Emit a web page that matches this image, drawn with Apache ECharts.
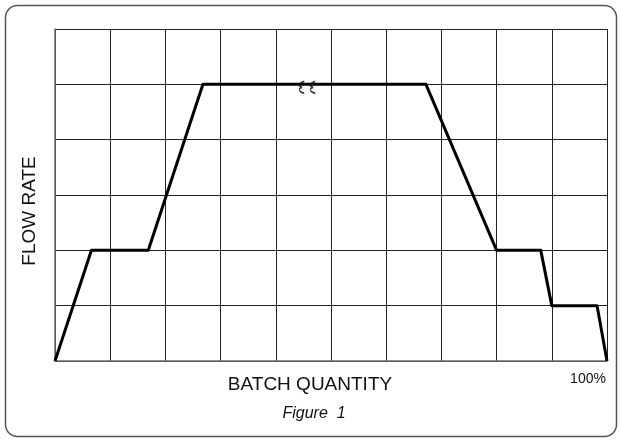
<!DOCTYPE html>
<html>
<head>
<meta charset="utf-8">
<script src="https://cdn.jsdelivr.net/npm/echarts@6/dist/echarts.min.js"></script>
<style>
  html, body { margin: 0; padding: 0; background: #fff; }
  #chart { width: 621px; height: 441px; }
</style>
</head>
<body>
<div id="chart"></div>
<script>
// batch quantity in grid columns (0..10), flow rate in grid rows (0..6)
const batchQty = [0, 0.66, 1.69, 2.68, 6.72, 8.0, 8.8, 9.0, 9.82, 10];
const flowRate = [0, 2, 2, 5, 5, 2, 2, 1, 1, 0];
// "break" marks on the top plateau
const breakQty = [4.47, 4.67];
const breakRate = [5, 5];

const chart = echarts.init(document.getElementById('chart'));

const brace = 'path://M4,0 C1,2 1,5 3,6 C1,7 1,10 4,12';
const font = '"Liberation Sans", Arial';

chart.setOption({
  animation: false,
  grid: { left: 55, right: 14, top: 29, bottom: 80 },
  xAxis: {
    type: 'value', min: 0, max: 10, interval: 1,
    axisLine: { show: true, lineStyle: { color: '#6e6e6e', width: 1.5 } },
    axisTick: { show: false },
    axisLabel: { show: false },
    splitLine: { show: true, lineStyle: { color: '#222', width: 1 } }
  },
  yAxis: {
    type: 'value', min: 0, max: 6, interval: 1,
    axisLine: { show: true, lineStyle: { color: '#6e6e6e', width: 1.5 } },
    axisTick: { show: false },
    axisLabel: { show: false },
    splitLine: { show: true, lineStyle: { color: '#222', width: 1 } }
  },
  series: [
    {
      type: 'line',
      data: batchQty.map((q, i) => [q, flowRate[i]]),
      symbol: 'none',
      lineStyle: { color: '#000', width: 3, join: 'round' }
    },
    {
      type: 'scatter',
      data: breakQty.map((q, i) => [q, breakRate[i]]),
      symbol: brace,
      symbolSize: [5, 12],
      symbolOffset: [0, 3],
      itemStyle: { color: 'rgba(0,0,0,0)', borderColor: '#000', borderWidth: 1.2 },
      z: 5
    }
  ],
  graphic: [
    {
      type: 'rect',
      shape: { x: 5.5, y: 5.5, width: 611, height: 431, r: 12 },
      style: { fill: 'none', stroke: '#555', lineWidth: 1.5 },
      z: -1
    },
    {
      type: 'text', x: 30, y: 211, rotation: Math.PI / 2,
      style: { text: 'FLOW RATE', font: '19px ' + font, fill: '#111', align: 'center', verticalAlign: 'middle' }
    },
    {
      type: 'text', x: 310, y: 385,
      style: { text: 'BATCH QUANTITY', font: '19px ' + font, fill: '#111', align: 'center', verticalAlign: 'middle' }
    },
    {
      type: 'text', x: 588, y: 379,
      style: { text: '100%', font: '14px ' + font, fill: '#111', align: 'center', verticalAlign: 'middle' }
    },
    {
      type: 'text', x: 314, y: 414,
      style: { text: 'Figure  1', font: 'italic 16px ' + font, fill: '#111', align: 'center', verticalAlign: 'middle' }
    }
  ]
});
</script>
</body>
</html>
